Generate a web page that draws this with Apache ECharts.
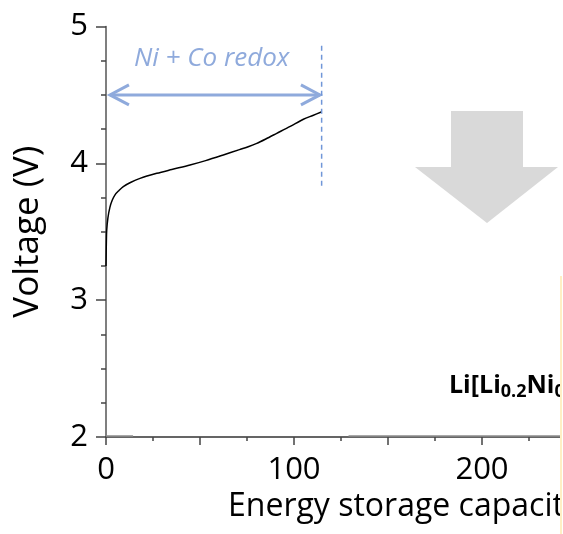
<!DOCTYPE html>
<html>
<head>
<meta charset="utf-8">
<script src="https://cdn.jsdelivr.net/npm/echarts@6/dist/echarts.min.js"></script>
<style>
  html, body { margin: 0; padding: 0; background: #fff; }
  #chart { width: 563px; height: 534px; }
</style>
</head>
<body>
<div id="chart"></div>
<script>
// charge curve: [capacity (mAh/g), voltage (V)]
const chargeCurve = [
  [0, 3.25], [0.1, 3.35], [0.2, 3.43], [0.37, 3.51], [1, 3.6], [2.1, 3.68],
  [3.3, 3.73], [4.8, 3.77], [6.8, 3.8], [9.2, 3.83], [13, 3.86], [18.1, 3.89],
  [27, 3.927], [35, 3.955], [44.7, 3.988], [53, 4.02], [62.4, 4.061],
  [71, 4.1], [76, 4.123], [80.2, 4.146], [85, 4.178], [90.8, 4.219],
  [98, 4.27], [105, 4.322], [110, 4.35], [114.8, 4.377]
];
// grey trace lying on the 2 V line
const baseTrace = [[0, 2.007], [14.4, 2.007], null, [129, 2.007], [300, 2.007]];
// end of the Ni + Co redox region
const redoxEnd = [[114.7, 4.86], [114.7, 3.82]];
// double arrow span: [from, to, voltage]
const redoxArrow = [[2.1, 113.8, 4.5]];

const xLabels = ['0', '100', '200', '300'];
const yLabels = ['2', '3', '4', '5'];

const font = '"Open Sans", "Noto Sans", sans-serif';
const blue = '#8FAADC';

const chart = echarts.init(document.getElementById('chart'));
chart.setOption({
  animation: false,
  backgroundColor: '#fff',
  grid: { left: 106, top: 26.5, width: 564, height: 410.5, outerBoundsMode: 'none', containLabel: false },
  xAxis: {
    type: 'value', min: 0, max: 300, interval: 50,
    name: 'Energy storage capacity (mAh/g)',
    nameLocation: 'start', nameGap: -122,
    nameTextStyle: { fontFamily: font, fontSize: 32, color: '#000', align: 'left', verticalAlign: 'top', padding: [54, 0, 0, 0] },
    splitLine: { show: false },
    axisLine: { lineStyle: { color: '#333', width: 1.5 } },
    axisTick: { length: 8, lineStyle: { color: '#444', width: 1.5 } },
    minorTick: { show: true, splitNumber: 2, length: 4, lineStyle: { color: '#444', width: 1.5 } },
    axisLabel: {
      fontFamily: font, fontSize: 31, color: '#000', margin: 18,
      formatter: v => xLabels.includes(String(v)) ? String(v) : ''
    }
  },
  yAxis: {
    type: 'value', min: 2, max: 5, interval: 1,
    name: 'Voltage (V)', nameLocation: 'middle', nameGap: 60,
    nameTextStyle: { fontFamily: font, fontSize: 35, color: '#000' },
    splitLine: { show: false },
    axisLine: { lineStyle: { color: '#555', width: 1.5 } },
    axisTick: { length: 10, lineStyle: { color: '#444', width: 1.5 } },
    minorTick: { show: true, splitNumber: 4, length: 5, lineStyle: { color: '#444', width: 1.5 } },
    axisLabel: {
      fontFamily: font, fontSize: 31, color: '#000', margin: 18,
      formatter: v => yLabels.includes(String(v)) ? String(v) : ''
    }
  },
  series: [
    {
      type: 'line', data: baseTrace, showSymbol: false, connectNulls: false,
      lineStyle: { color: '#8c8c8c', width: 1.5 }
    },
    {
      type: 'line', data: chargeCurve, smooth: 0.3, showSymbol: false,
      lineStyle: { color: '#000', width: 1.5 }
    },
    {
      type: 'line', data: redoxEnd, showSymbol: false,
      lineStyle: { color: '#7096D8', width: 1.5, type: [5, 4] }
    },
    {
      type: 'custom', data: redoxArrow,
      encode: { x: [0, 1], y: 2 },
      renderItem: function (params, api) {
        const a = api.coord([api.value(0), api.value(2)]);
        const b = api.coord([api.value(1), api.value(2)]);
        const st = { stroke: blue, lineWidth: 3, fill: null };
        return {
          type: 'group',
          children: [
            { type: 'line', shape: { x1: a[0], y1: a[1], x2: b[0], y2: b[1] }, style: st },
            { type: 'polyline', shape: { points: [[a[0] + 19, a[1] - 10], [a[0], a[1]], [a[0] + 19, a[1] + 10]] }, style: st },
            { type: 'polyline', shape: { points: [[b[0] - 19, b[1] - 10], [b[0], b[1]], [b[0] - 19, b[1] + 10]] }, style: st }
          ]
        };
      }
    }
  ],
  graphic: [
    {
      type: 'text', left: 134, top: 46,
      style: { text: 'Ni + Co redox', font: 'italic 26px ' + font, fill: blue }
    },
    {
      type: 'polygon',
      shape: { points: [[451, 111], [523, 111], [523, 167], [558, 167], [487, 223], [415, 167], [451, 167]] },
      style: { fill: '#D9D9D9' }
    },
    {
      type: 'text', left: 449, top: 373,
      style: {
        text: 'Li[Li{s|0.2}Ni{s|0.13}Co{s|0.13}Mn{s|0.54}]O{s|2}',
        font: 'bold 25px ' + font, fill: '#000',
        rich: { s: { fontFamily: font, fontWeight: 'bold', fontSize: 18, padding: [12, 0, 0, 0] } }
      }
    },
    { type: 'rect', shape: { x: 562, y: 276, width: 4, height: 258 }, style: { fill: '#fff' }, z: 10 },
    { type: 'rect', shape: { x: 560, y: 276, width: 2, height: 258 }, style: { fill: '#FFEFC4' }, z: 11 }
  ]
});
</script>
</body>
</html>
